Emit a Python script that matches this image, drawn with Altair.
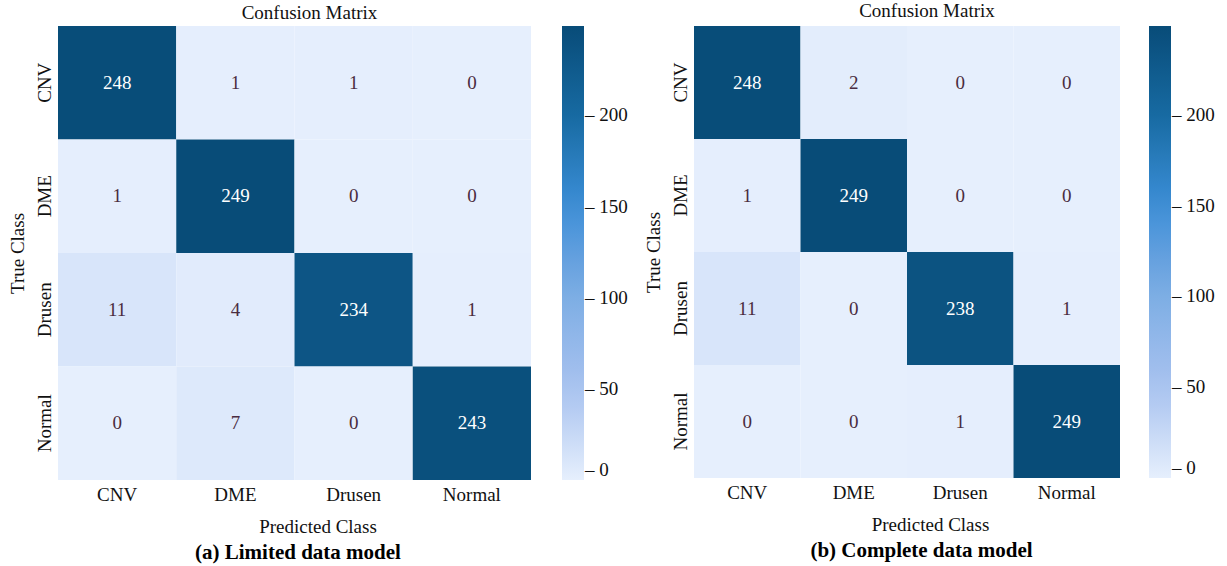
import altair as alt
import pandas as pd

classes = ["CNV", "DME", "Drusen", "Normal"]

# rows = true class, columns = predicted class
limited_counts = [
    [248, 1, 1, 0],
    [1, 249, 0, 0],
    [11, 4, 234, 1],
    [0, 7, 0, 243],
]
complete_counts = [
    [248, 2, 0, 0],
    [1, 249, 0, 0],
    [11, 0, 238, 1],
    [0, 0, 1, 249],
]

color_stops = [0, 50, 100, 150, 200, 249]
color_range = ["#e6effd", "#a8c2ef", "#7daee4", "#3b8fd8", "#176aa2", "#084c78"]
colorbar_ticks = [0, 50, 100, 150, 200]

FONT = "Liberation Serif"
FS = 19


def to_frame(matrix):
    rows = []
    for i, true_c in enumerate(classes):
        for j, pred_c in enumerate(classes):
            rows.append({"true": true_c, "pred": pred_c, "count": matrix[i][j]})
    return pd.DataFrame(rows)


def panel(matrix, caption, width, height, legend_offset, title_dx,
          title_offset, caption_dx):
    df = to_frame(matrix)
    base = alt.Chart(df).encode(
        x=alt.X("pred:N", sort=classes, title="Predicted Class",
                axis=alt.Axis(labelAngle=0, domain=False, ticks=False,
                              labelPadding=5, titlePadding=13,
                              titleX=width / 2 + 23)),
        y=alt.Y("true:N", sort=classes, title="True Class",
                axis=alt.Axis(labelAngle=-90, domain=False, ticks=False,
                              labelPadding=4, titlePadding=8,
                              labelAlign="center", labelBaseline="bottom")),
    )
    rect = base.mark_rect().encode(
        color=alt.Color(
            "count:Q",
            scale=alt.Scale(domain=color_stops, range=color_range),
            legend=alt.Legend(
                title=None, gradientLength=height, gradientThickness=22,
                offset=legend_offset, values=colorbar_ticks,
                labelExpr="'\u2013 ' + datum.label",
                labelFontSize=FS, labelFont=FONT,
                labelColor="#111111", gradientStrokeWidth=0,
                labelOffset=1,
            ),
        )
    )
    text = base.mark_text(font=FONT, fontSize=FS).encode(
        text="count:Q",
        color=alt.condition(alt.datum.count > 125, alt.value("#ffffff"),
                            alt.value("#4a2c40")),
    )
    layered = alt.layer(rect, text).properties(
        width=width, height=height,
        title=alt.TitleParams("Confusion Matrix", font=FONT, fontSize=FS,
                              fontWeight="normal", color="#111111",
                              anchor="middle", dx=title_dx,
                              offset=title_offset),
    ).resolve_scale(color="independent")
    return alt.vconcat(
        layered,
        title=alt.TitleParams(caption, orient="bottom", anchor="middle",
                              font=FONT, fontSize=21, fontWeight="bold",
                              color="#000000", offset=6, dx=caption_dx),
    )


left = panel(limited_counts, "(a) Limited data model", 473, 454, 31, 15, 3, -20)
right = panel(complete_counts, "(b) Complete data model", 426, 452, 29, 20, 5, -8)

chart = alt.hconcat(left, right, spacing=16).resolve_scale(
    color="independent"
).configure_view(stroke=None).configure_text(font=FONT).configure_axis(
    labelFont=FONT, titleFont=FONT, labelFontSize=FS, titleFontSize=FS,
    labelColor="#111111", titleColor="#111111", titleFontWeight="normal",
).properties(padding={"left": 8, "top": 2, "right": 2, "bottom": 2})

chart.save("out.html", embed_options={"renderer": "svg", "actions": False})
